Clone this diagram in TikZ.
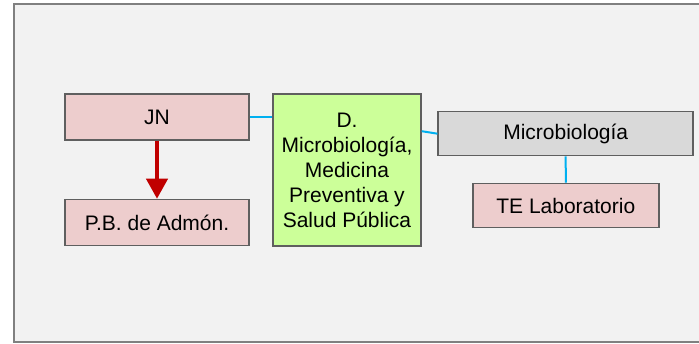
\documentclass[tikz,border=0pt]{standalone}
\usepackage{fontspec}
\setmainfont{Liberation Sans}
\usepackage{xcolor}
\usepackage{tikz}
\usetikzlibrary{arrows.meta}
\definecolor{framec}{HTML}{808080}
\definecolor{pagebg}{HTML}{F2F2F2}
\definecolor{edgec}{HTML}{5F5F5F}
\definecolor{pinkc}{HTML}{EDCDCD}
\definecolor{greenc}{HTML}{CCFF99}
\definecolor{grayc}{HTML}{D9D9D9}
\definecolor{linkc}{HTML}{00B0F0}
\definecolor{redc}{HTML}{C00000}
\tikzset{
  unit/.style={draw=edgec,line width=1.5pt,inner sep=0pt,align=center,
    font=\fontsize{21}{25}\selectfont},
  pinkbox/.style={unit,fill=pinkc,minimum width=184pt,minimum height=46pt},
  link/.style={linkc,line width=2pt},
  redar/.style={-{Triangle[width=21pt,length=20pt]},redc,line width=4pt}
}
\begin{document}
\begin{tikzpicture}[x=1pt,y=-1pt]
\useasboundingbox (0,0) rectangle (699,344);
\draw[framec,fill=pagebg,line width=2pt] (14,4.5) rectangle (710,342.5);
% boxes
\node[pinkbox] (jn) at (157,117) {JN};
\node[pinkbox] (pb) at (157,222.5) {P.B. de Admón.};
\node[unit,fill=greenc,minimum width=148pt,minimum height=152pt] (dept) at (347,170)
  {D.\\Microbiología,\\Medicina\\Preventiva y\\Salud Pública};
\node[unit,fill=grayc,minimum width=255pt,minimum height=44pt] (micro) at (565.7,133.7) {Microbiología};
\node[pinkbox,minimum width=186pt,minimum height=44pt] (te) at (565.8,205.5) {TE Laboratorio};
% connectors
\draw[link] (jn.east) -- (dept.west |- jn.east);
\draw[link] ([yshift=2.5pt]dept.east |- micro.west) -- (micro.west);
\draw[link] (micro.south) -- (te.north);
\draw[redar] (jn.south) -- (pb.north);
\end{tikzpicture}
\end{document}
